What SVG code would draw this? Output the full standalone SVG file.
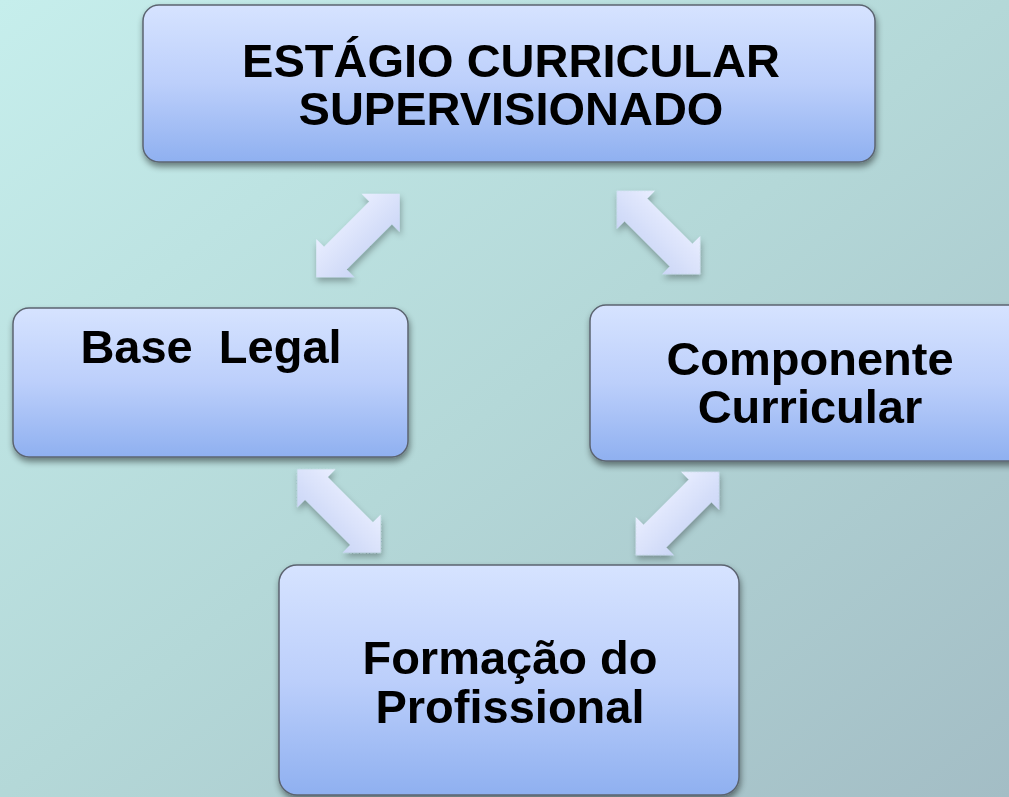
<svg xmlns="http://www.w3.org/2000/svg" xmlns:xlink="http://www.w3.org/1999/xlink" width="1009" height="797" viewBox="0 0 1009 797">
  <defs>
    <style>
      .box { fill: url(#boxGrad); stroke: #5b6470; stroke-width: 1.5; }
      .lbl { font-family: "Liberation Sans", Arial, sans-serif; font-weight: bold; font-size: 47px; fill: #000; text-anchor: middle; }
      .arr { fill: url(#arrGrad); }
    </style>
    <linearGradient id="bgGrad" x1="0" y1="0" x2="1" y2="1">
      <stop offset="0" stop-color="#c6eeec"/>
      <stop offset="0.5" stop-color="#b4d8d8"/>
      <stop offset="1" stop-color="#a3bdc5"/>
    </linearGradient>
    <linearGradient id="boxGrad" x1="0" y1="0" x2="0" y2="1">
      <stop offset="0" stop-color="#d6e3ff"/>
      <stop offset="0.5" stop-color="#bccffb"/>
      <stop offset="1" stop-color="#8fb0f0"/>
    </linearGradient>
    <linearGradient id="arrGrad" x1="0" y1="0" x2="0" y2="1">
      <stop offset="0" stop-color="#e9eeff"/>
      <stop offset="1" stop-color="#cbd6f6"/>
    </linearGradient>
    <filter id="shadow" x="-10%" y="-10%" width="120%" height="130%">
      <feDropShadow dx="1" dy="4" stdDeviation="3" flood-color="#000" flood-opacity="0.45"/>
    </filter>
    <filter id="ashadow" x="-30%" y="-30%" width="160%" height="160%">
      <feDropShadow dx="1" dy="4" stdDeviation="3" flood-color="#000" flood-opacity="0.3"/>
    </filter>
    <polygon id="dblArrow" points="-59,0 -32,-27 -32,-16 32,-16 32,-27 59,0 32,27 32,16 -32,16 -32,27"/>
  </defs>

  <rect x="0" y="0" width="1009" height="797" fill="url(#bgGrad)"/>

  <g id="connectors" filter="url(#ashadow)">
    <use xlink:href="#dblArrow" class="arr" transform="translate(358,235.5) rotate(-45)"/>
    <use xlink:href="#dblArrow" class="arr" transform="translate(658.5,232.5) rotate(45)"/>
    <use xlink:href="#dblArrow" class="arr" transform="translate(339,511) rotate(45)"/>
    <use xlink:href="#dblArrow" class="arr" transform="translate(677.5,513.5) rotate(-45)"/>
  </g>

  <g id="node-estagio" filter="url(#shadow)">
    <rect class="box" x="143" y="5" width="732" height="157" rx="16" ry="16"/>
    <text class="lbl" x="511" y="77">ESTÁGIO CURRICULAR</text>
    <text class="lbl" x="511" y="125">SUPERVISIONADO</text>
  </g>

  <g id="node-base-legal" filter="url(#shadow)">
    <rect class="box" x="13" y="308" width="395" height="149" rx="16" ry="16"/>
    <text class="lbl" x="211" y="363" xml:space="preserve">Base  Legal</text>
  </g>

  <g id="node-componente" filter="url(#shadow)">
    <rect class="box" x="590" y="305" width="440" height="156" rx="16" ry="16"/>
    <text class="lbl" x="810" y="375">Componente</text>
    <text class="lbl" x="810" y="423">Curricular</text>
  </g>

  <g id="node-formacao" filter="url(#shadow)">
    <rect class="box" x="279" y="565" width="460" height="230" rx="18" ry="18"/>
    <text class="lbl" x="510" y="674">Formação do</text>
    <text class="lbl" x="510" y="723">Profissional</text>
  </g>
</svg>
